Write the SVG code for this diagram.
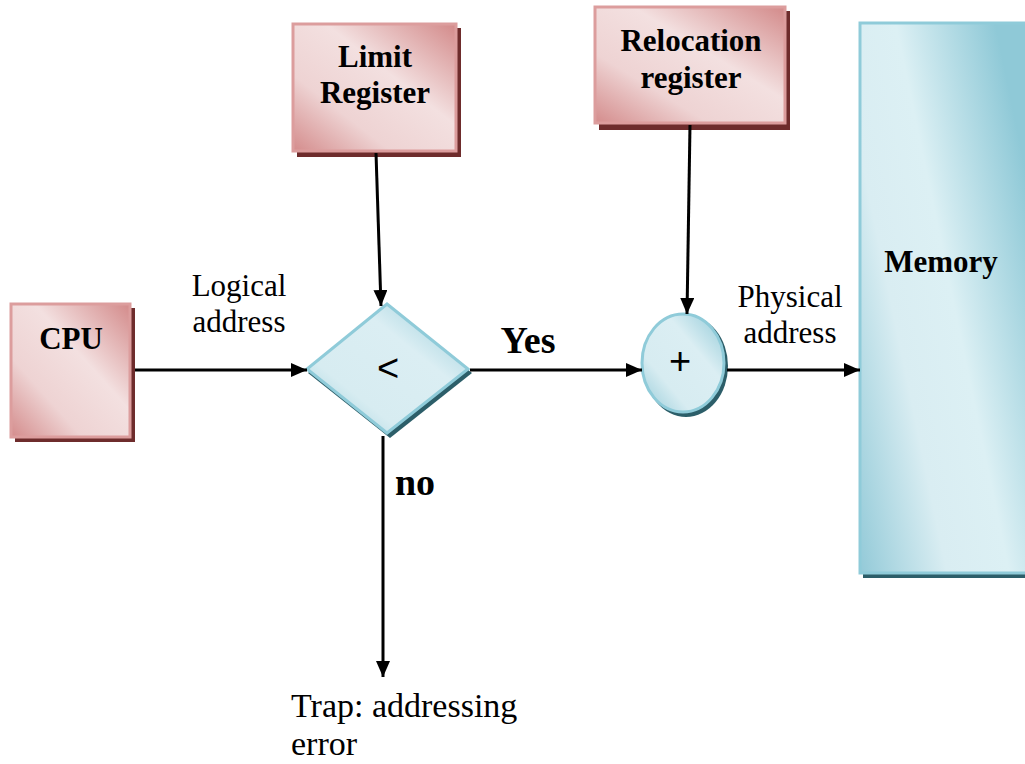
<svg xmlns="http://www.w3.org/2000/svg" width="1025" height="764" viewBox="0 0 1025 764">
  <defs>
    <linearGradient id="pink" x1="0" y1="1" x2="1" y2="0">
      <stop offset="0" stop-color="#d48c8c"/>
      <stop offset="0.3" stop-color="#eed3d3"/>
      <stop offset="0.6" stop-color="#f3e0e0"/>
      <stop offset="1" stop-color="#d38a8a"/>
    </linearGradient>
    <linearGradient id="blue" x1="0" y1="1" x2="1" y2="0">
      <stop offset="0" stop-color="#93cad8"/>
      <stop offset="0.3" stop-color="#d7ecf1"/>
      <stop offset="0.65" stop-color="#dbeef3"/>
      <stop offset="1" stop-color="#8fc9d7"/>
    </linearGradient>
    <linearGradient id="memgrad" x1="0" y1="1" x2="1" y2="0.35">
      <stop offset="0" stop-color="#93cad8"/>
      <stop offset="0.35" stop-color="#d9edf2"/>
      <stop offset="0.6" stop-color="#dcf0f4"/>
      <stop offset="1" stop-color="#8fc9d7"/>
    </linearGradient>
    <marker id="arrow" viewBox="0 0 10 10" refX="10" refY="5" markerWidth="16" markerHeight="14" markerUnits="userSpaceOnUse" orient="auto" preserveAspectRatio="none">
      <path d="M0,0 L10,5 L0,10 z" fill="#000"/>
    </marker>
    <style>
      .reg { fill: url(#pink); stroke: #dc9d9d; stroke-width: 3; }
      .regshadow { fill: #6e2c2c; }
      .cyan { stroke: #8fcbd9; stroke-width: 3; }
      .cyanshadow { fill: #2c5e69; }
      .bold { font-family: "Liberation Serif", serif; font-weight: bold; fill: #000; text-anchor: middle; }
      .plain { font-family: "Liberation Serif", serif; fill: #000; }
      .sym { font-family: "Liberation Sans", sans-serif; fill: #000; text-anchor: middle; }
      .wire { stroke: #000; stroke-width: 3; fill: none; marker-end: url(#arrow); }
    </style>
  </defs>

  <rect width="1025" height="764" fill="#fff"/>

  <!-- Limit register -->
  <g id="limit">
    <rect class="regshadow" x="297" y="28" width="164" height="129"/>
    <rect class="reg" x="293" y="24" width="163" height="127"/>
    <text class="bold" x="375" y="67" font-size="31">Limit</text>
    <text class="bold" x="375" y="103" font-size="31">Register</text>
  </g>

  <!-- Relocation register -->
  <g id="relocation">
    <rect class="regshadow" x="599" y="11" width="191" height="119"/>
    <rect class="reg" x="595" y="7" width="190" height="116"/>
    <text class="bold" x="691" y="51" font-size="31">Relocation</text>
    <text class="bold" x="691" y="88" font-size="31">register</text>
  </g>

  <!-- CPU -->
  <g id="cpu">
    <rect class="regshadow" x="15" y="308" width="120" height="134"/>
    <rect class="reg" x="11" y="304" width="119" height="133"/>
    <text class="bold" x="71" y="349" font-size="31">CPU</text>
  </g>

  <!-- Memory -->
  <g id="memory">
    <rect class="cyanshadow" x="863" y="27" width="170" height="551"/>
    <rect x="860" y="23" width="175" height="550" fill="url(#memgrad)" class="cyan"/>
    <text class="bold" x="941" y="272" font-size="31">Memory</text>
  </g>

  <!-- Comparator -->
  <g id="compare">
    <polygon class="cyanshadow" points="390,308 472,373 390,438 308,373"/>
    <polygon points="387,304 468,369 387,433 307,369" fill="url(#blue)" class="cyan"/>
    <text class="sym" x="388" y="381" font-size="38">&lt;</text>
  </g>

  <!-- Adder -->
  <g id="adder">
    <ellipse class="cyanshadow" cx="686" cy="366" rx="42" ry="51"/>
    <ellipse cx="683" cy="363" rx="41" ry="49" fill="url(#blue)" class="cyan"/>
    <text class="sym" x="680" y="374" font-size="38">+</text>
  </g>

  <!-- Connectors -->
  <g id="connectors">
    <line class="wire" x1="135" y1="370" x2="307" y2="370"/>
    <line class="wire" x1="376" y1="153" x2="381" y2="306"/>
    <line class="wire" x1="690" y1="125" x2="687" y2="314"/>
    <line class="wire" x1="470" y1="370" x2="642" y2="370"/>
    <line class="wire" x1="727" y1="370" x2="860" y2="370"/>
    <line class="wire" x1="383" y1="436" x2="383" y2="677"/>
  </g>

  <!-- Labels -->
  <g id="labels">
    <text class="plain" x="239" y="296" font-size="31" text-anchor="middle">Logical</text>
    <text class="plain" x="239" y="332" font-size="31" text-anchor="middle">address</text>
    <text class="plain" x="790" y="307" font-size="31" text-anchor="middle">Physical</text>
    <text class="plain" x="790" y="343" font-size="31" text-anchor="middle">address</text>
    <text class="bold" x="528" y="353" font-size="38">Yes</text>
    <text class="bold" x="415" y="495" font-size="38">no</text>
    <text class="plain" x="291" y="717" font-size="34">Trap: addressing</text>
    <text class="plain" x="291" y="755" font-size="34">error</text>
  </g>
</svg>
